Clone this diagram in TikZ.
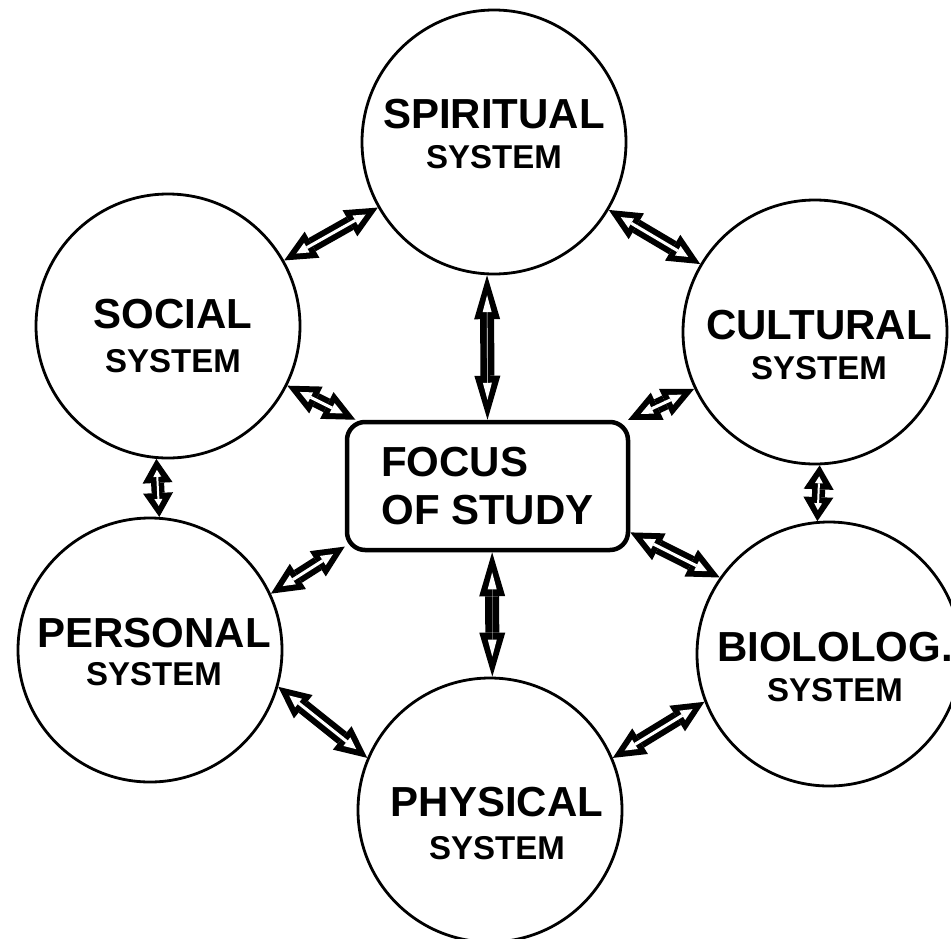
\documentclass[tikz,border=0pt]{standalone}
\usepackage{fontspec}
\setmainfont{Liberation Sans}
\usetikzlibrary{arrows.meta}

\tikzset{
  bubble/.style={draw, circle, line width=2.8pt, minimum size=264pt, inner sep=0pt},
  systext/.style={align=center, font=\bfseries\fontsize{33}{40}\selectfont},
  focusbox/.style={draw, rounded corners=18pt, line width=4.5pt, minimum width=281pt, minimum height=128pt, align=left, font=\bfseries\fontsize{42}{48}\selectfont},
  link/.style={line width=15pt, {Triangle[length=32pt,width=30pt,line width=0pt]}-{Triangle[length=32pt,width=30pt,line width=0pt]}},
  linkin/.style={white, line width=3pt, shorten <=14pt, shorten >=14pt, {Triangle[length=12pt,width=11pt,line width=0pt]}-{Triangle[length=12pt,width=11pt,line width=0pt]}},
  slink/.style={line width=13pt, {Triangle[length=24pt,width=30pt,line width=0pt]}-{Triangle[length=24pt,width=30pt,line width=0pt]}},
  slinkin/.style={white, line width=2pt, shorten <=11pt, shorten >=11pt, {Triangle[length=7pt,width=8pt,line width=0pt]}-{Triangle[length=7pt,width=8pt,line width=0pt]}},
  vlink/.style={line width=14pt, {Triangle[length=44pt,width=26pt,line width=0pt]}-{Triangle[length=44pt,width=26pt,line width=0pt]}},
  vlinkin/.style={white, line width=0.6pt, shorten <=20pt, shorten >=20pt, {Triangle[length=17pt,width=9pt,line width=0pt]}-{Triangle[length=17pt,width=9pt,line width=0pt]}}
}

\begin{document}
\begin{tikzpicture}[x=1pt,y=-1pt]
  \useasboundingbox (0,0) rectangle (951,938);

  % systems round the focus
  \node[bubble] (spirit) at (494,142) {};
  \node[bubble] (social) at (168,326) {};
  \node[bubble] (cult) at (815,332) {};
  \node[bubble] (personal) at (150,650) {};
  \node[bubble] (bio) at (829,654) {};
  \node[bubble] (phys) at (490,810) {};
  \node[focusbox] (focus) at (487.5,486) {FOCUS\\OF STUDY};

  \node[systext, yshift=8pt] (spirit-t) at (spirit) {{\fontsize{42}{42}\selectfont SPIRITUAL}\\SYSTEM};
  \node[systext, xshift=5pt, yshift=-10pt] (social-t) at (social) {{\fontsize{42}{42}\selectfont SOCIAL}\\[4pt]SYSTEM};
  \node[systext, xshift=4pt, yshift=-13pt] (cult-t) at (cult) {{\fontsize{42}{42}\selectfont CULTURAL}\\SYSTEM};
  \node[systext, xshift=4pt, yshift=-2pt] (personal-t) at (personal) {{\fontsize{42}{42}\selectfont PERSONAL}\\[-2pt]SYSTEM};
  \node[systext, xshift=6pt, yshift=-13pt] (bio-t) at (bio) {{\fontsize{42}{42}\selectfont BIOLOLOG.}\\SYSTEM};
  \node[systext, xshift=7pt, yshift=-13pt] (phys-t) at (phys) {{\fontsize{42}{42}\selectfont PHYSICAL}\\[3pt]SYSTEM};

  % two way links
  \foreach \a/\b in {social/spirit, spirit/cult, social/focus, focus/cult,
                     personal.25/focus.203, focus.-18/bio.145,
                     personal.-16/phys.157, phys.23/bio.201} {
    \draw[link] (\a) -- (\b);
    \draw[linkin] (\a) -- (\b);
  }
  \foreach \a/\b in {social.-95/personal.86, cult.-88/bio.95} {
    \draw[slink] (\a) -- (\b);
    \draw[slinkin] (\a) -- (\b);
  }
  \draw[vlink] (spirit.-93) -- (focus.north);
  \draw[vlinkin] (spirit.-93) -- (focus.north);
  \draw[vlink] (focus.-86) -- (phys.89);
  \draw[vlinkin, line width=0.2pt] (focus.-86) -- (phys.89);
\end{tikzpicture}
\end{document}
